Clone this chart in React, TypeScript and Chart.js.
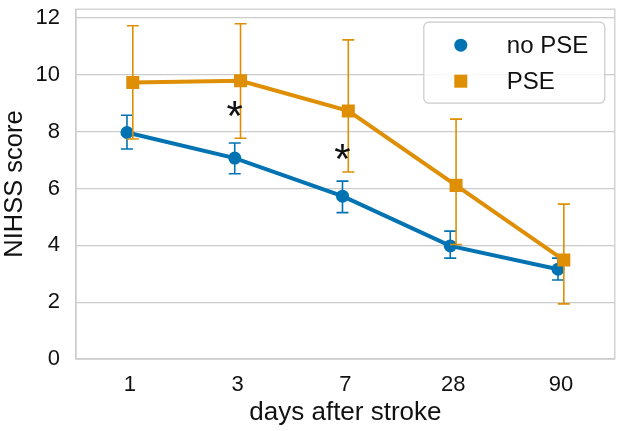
import { useEffect, useRef } from 'react';
import Chart from 'chart.js/auto';

const days = ['1', '3', '7', '28', '90'];
const groups = ['no PSE', 'PSE'];

const noPseMean = [7.97, 7.07, 5.73, 3.98, 3.16];
const noPseLow = [7.39, 6.52, 5.15, 3.55, 2.78];
const noPseHigh = [8.58, 7.6, 6.26, 4.5, 3.55];

const pseMean = [9.73, 9.79, 8.73, 6.11, 3.48];
const pseLow = [7.74, 7.77, 6.58, 4.03, 1.94];
const pseHigh = [11.73, 11.8, 11.23, 8.44, 5.45];

const yTicks = [0, 2, 4, 6, 8, 10, 12];

// significance markers (day index, score level)
const starIndex = [1, 2];
const starScore = [8.79, 7.29];

const BLUE = '#0173b2';
const ORANGE = '#de8f05';
const GRID = '#cccccc';
const FONT = "'Liberation Sans', Arial, sans-serif";
const DODGE = 0.027;

const lows = [noPseLow, pseLow];
const highs = [noPseHigh, pseHigh];

const errorBars = {
  id: 'errorBars',
  beforeDatasetDraw(chart: any, args: any) {
    const { ctx, scales } = chart;
    const meta = args.meta;
    const i = args.index;
    const color = chart.data.datasets[i].borderColor;
    ctx.save();
    ctx.strokeStyle = color;
    ctx.lineWidth = 1.6;
    meta.data.forEach((pt: any, j: number) => {
      const yl = scales.y.getPixelForValue(lows[i][j]);
      const yh = scales.y.getPixelForValue(highs[i][j]);
      const x = pt.x;
      ctx.beginPath();
      ctx.moveTo(x, yl);
      ctx.lineTo(x, yh);
      ctx.moveTo(x - 6, yl);
      ctx.lineTo(x + 6, yl);
      ctx.moveTo(x - 6, yh);
      ctx.lineTo(x + 6, yh);
      ctx.stroke();
    });
    ctx.restore();
  },
};

const frame = {
  id: 'frame',
  afterDraw(chart: any) {
    const { ctx, chartArea, scales } = chart;
    ctx.save();
    // plot border
    ctx.strokeStyle = GRID;
    ctx.lineWidth = 1.25;
    ctx.strokeRect(chartArea.left, chartArea.top, chartArea.right - chartArea.left, chartArea.bottom - chartArea.top);

    // asterisks
    ctx.fillStyle = '#111111';
    ctx.font = `42px ${FONT}`;
    ctx.textAlign = 'center';
    ctx.textBaseline = 'alphabetic';
    starIndex.forEach((d, k) => {
      const x = scales.x.getPixelForValue(d - DODGE);
      const cy = scales.y.getPixelForValue(starScore[k]);
      const m = ctx.measureText('*');
      const base = cy + (m.actualBoundingBoxAscent - m.actualBoundingBoxDescent) / 2;
      ctx.fillText('*', x, base);
    });

    // legend
    const bx = chartArea.right - 191;
    const by = chartArea.top + 13;
    const bw = 181;
    const bh = 81;
    ctx.beginPath();
    ctx.roundRect(bx, by, bw, bh, 5);
    ctx.fillStyle = 'rgba(255,255,255,0.85)';
    ctx.fill();
    ctx.strokeStyle = GRID;
    ctx.lineWidth = 1.25;
    ctx.stroke();

    ctx.font = `24px ${FONT}`;
    ctx.textAlign = 'left';
    ctx.textBaseline = 'middle';
    chart.data.datasets.forEach((ds: any, k: number) => {
      const my = by + 23 + k * 36;
      const mx = bx + 37;
      ctx.fillStyle = ds.backgroundColor;
      if (ds.pointStyle === 'rect') {
        ctx.fillRect(mx - 6.5, my - 6.5, 13, 13);
      } else {
        ctx.beginPath();
        ctx.arc(mx, my, 6.5, 0, Math.PI * 2);
        ctx.fill();
      }
      ctx.fillStyle = '#111111';
      ctx.fillText(ds.label, bx + 83, my + 1);
    });
    ctx.restore();
  },
};

export default function App() {
  const chartRef = useRef<HTMLCanvasElement>(null);
  const chartInstance = useRef<Chart | null>(null);

  useEffect(() => {
    if (!chartRef.current) return;
    if (chartInstance.current) chartInstance.current.destroy();
    const ctx = chartRef.current.getContext('2d');
    if (!ctx) return;

    chartInstance.current = new Chart(ctx, {
      type: 'line',
      data: {
        datasets: [
          {
            label: groups[0],
            data: noPseMean.map((v, i) => ({ x: i - DODGE, y: v })),
            borderColor: BLUE,
            backgroundColor: BLUE,
            borderWidth: 4,
            pointStyle: 'circle',
            pointRadius: 6.5,
            pointBorderWidth: 0,
            order: 2,
          },
          {
            label: groups[1],
            data: pseMean.map((v, i) => ({ x: i + DODGE, y: v })),
            borderColor: ORANGE,
            backgroundColor: ORANGE,
            borderWidth: 4,
            pointStyle: 'rect',
            pointRadius: 9.2,
            pointBorderWidth: 0,
            order: 1,
          },
        ],
      },
      options: {
        responsive: true,
        maintainAspectRatio: false,
        animation: false,
        layout: { padding: { top: 6, right: 7, left: 0, bottom: 0 } },
        plugins: {
          legend: { display: false },
          tooltip: { enabled: false },
        },
        scales: {
          x: {
            type: 'linear',
            min: -0.5,
            max: 4.5,
            afterBuildTicks: (scale: any) => {
              scale.ticks = days.map((_, i) => ({ value: i }));
            },
            afterFit: (scale: any) => {
              scale.height = 72;
              scale.paddingLeft = 0;
              scale.paddingRight = 0;
            },
            grid: { display: false, drawTicks: false },
            border: { display: true, color: GRID, width: 1.25 },
            ticks: {
              padding: 13,
              color: '#111111',
              font: { family: FONT, size: 22 },
              callback: (v: any) => days[Math.round(Number(v))],
            },
            title: {
              display: true,
              text: 'days after stroke',
              color: '#111111',
              font: { family: FONT, size: 26, lineHeight: 1.2 },
              padding: { top: 0, bottom: 3 },
            },
          },
          y: {
            min: 0,
            max: 12.31,
            afterBuildTicks: (scale: any) => {
              scale.ticks = yTicks.map((v) => ({ value: v }));
            },
            afterFit: (scale: any) => {
              scale.width = 76;
              scale.paddingTop = 0;
              scale.paddingBottom = 0;
            },
            grid: { color: GRID, lineWidth: 1.25, drawTicks: false },
            border: { display: true, color: GRID, width: 1.25 },
            ticks: {
              padding: 16,
              color: '#111111',
              font: { family: FONT, size: 22 },
            },
            title: {
              display: true,
              text: 'NIHSS score',
              color: '#111111',
              font: { family: FONT, size: 25.5, lineHeight: 1.1 },
              padding: { top: 1, bottom: 0 },
            },
          },
        },
      },
      plugins: [errorBars, frame],
    });

    return () => {
      if (chartInstance.current) {
        chartInstance.current.destroy();
        chartInstance.current = null;
      }
    };
  }, []);

  return (
    <div style={{ position: 'absolute', left: 0, top: 0, width: 624, height: 431 }}>
      <canvas ref={chartRef} />
    </div>
  );
}
